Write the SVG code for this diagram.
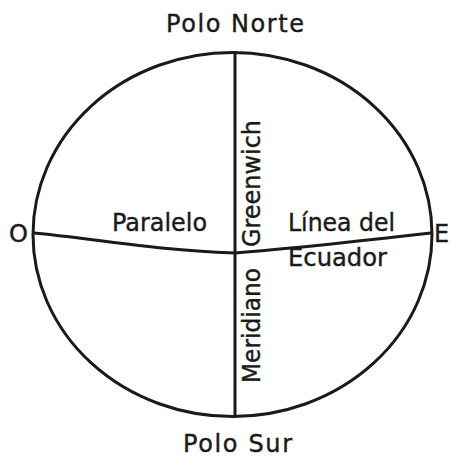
<svg xmlns="http://www.w3.org/2000/svg" width="450" height="458" viewBox="0 0 450 458">
<style>
.t{font-family:"DejaVu Sans","Liberation Sans",sans-serif;font-size:24px;fill:#1a1a1a;stroke:#1a1a1a;stroke-width:0.4}
.ln{fill:none;stroke:#1a1a1a;stroke-width:3;stroke-linecap:round}
</style>
<rect width="450" height="458" fill="#fff"/>
<g id="globe">
<ellipse class="ln" cx="232.5" cy="234.5" rx="199.5" ry="182"/>
</g>
<g id="connectors">
<line class="ln" x1="235" y1="52.5" x2="235" y2="416.5"/>
<path class="ln" d="M34,233 C90,238 150,250 235,253 C300,248 370,240 431,233"/>
</g>
<g id="polo-norte"><text class="t" x="166" y="32" textLength="138" lengthAdjust="spacing">Polo Norte</text></g>
<g id="polo-sur"><text class="t" x="183" y="452" textLength="109" lengthAdjust="spacing">Polo Sur</text></g>
<g id="oeste"><text class="t" x="9" y="242" font-size="26">O</text></g>
<g id="este"><text class="t" x="434" y="242" font-size="24">E</text></g>
<g id="paralelo"><text class="t" x="112" y="231" textLength="95" lengthAdjust="spacingAndGlyphs">Paralelo</text></g>
<g id="linea-ecuador">
<text class="t" x="288" y="231" textLength="107" lengthAdjust="spacingAndGlyphs">Línea del</text>
<text class="t" x="288" y="266" textLength="99" lengthAdjust="spacingAndGlyphs">Ecuador</text>
</g>
<g id="meridiano-greenwich">
<text class="t" transform="translate(260,247) rotate(-90)" textLength="127" lengthAdjust="spacingAndGlyphs">Greenwich</text>
<text class="t" transform="translate(260,383) rotate(-90)" textLength="115" lengthAdjust="spacingAndGlyphs">Meridiano</text>
</g>
</svg>
